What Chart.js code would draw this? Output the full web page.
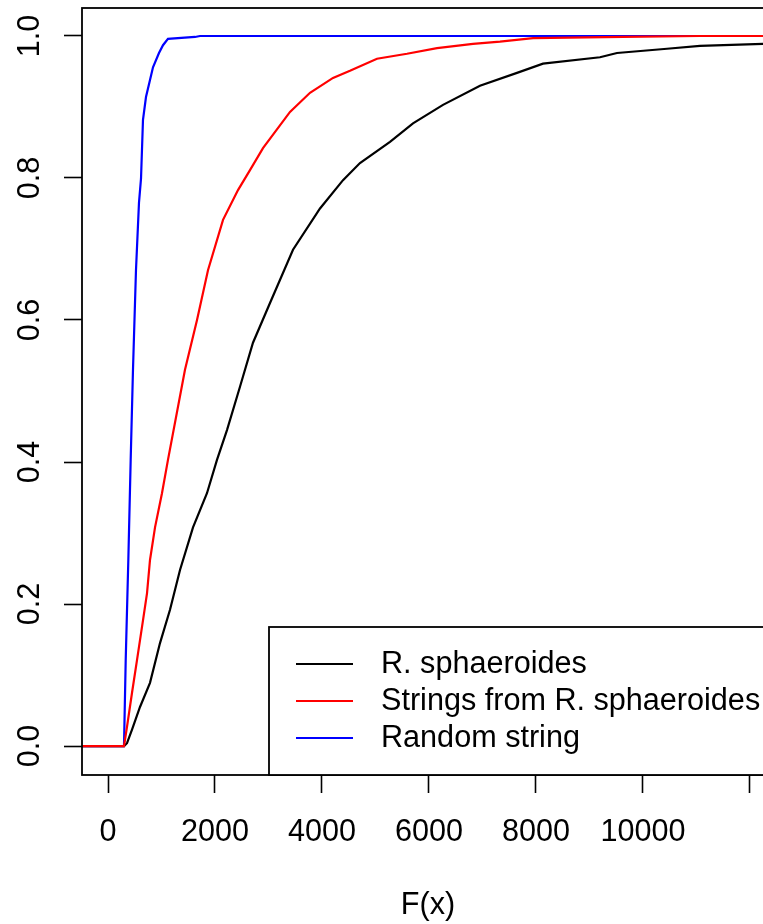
<!DOCTYPE html>
<html>
<head>
<meta charset="utf-8">
<script src="https://cdn.jsdelivr.net/npm/chart.js@4/dist/chart.umd.min.js"></script>
<style>
html,body{margin:0;padding:0;background:#fff;overflow:hidden;}
#wrap{width:784px;height:924px;}
</style>
</head>
<body>
<div id="wrap"><canvas id="c" width="784" height="924"></canvas></div>
<script>
const seriesLabels = ["R. sphaeroides", "Strings from R. sphaeroides", "Random string"];
const seriesColors = ["#000000", "#FF0000", "#0000FF"];

const blackX = [-1000, 299, 355, 449, 598, 785, 972, 1159, 1346, 1589, 1850, 2037, 2224, 2467, 2710, 3028, 3458, 3963, 4393, 4710, 5271, 5701, 6262, 6953, 7645, 8131, 9196, 9514, 10449, 11065, 12243, 13000];
const blackY = [0, 0, 0.004, 0.023, 0.055, 0.089, 0.145, 0.192, 0.248, 0.308, 0.356, 0.403, 0.445, 0.506, 0.568, 0.624, 0.699, 0.757, 0.797, 0.821, 0.851, 0.877, 0.903, 0.930, 0.948, 0.961, 0.970, 0.976, 0.982, 0.986, 0.989, 0.991];

const redX = [-1000, 299, 355, 449, 542, 654, 729, 785, 879, 1009, 1121, 1439, 1664, 1869, 2150, 2430, 2654, 2897, 3402, 3776, 4206, 4523, 5028, 5589, 6150, 6822, 7327, 7944, 9626, 11065, 13000];
const redY = [0, 0, 0.027, 0.075, 0.121, 0.177, 0.215, 0.262, 0.308, 0.356, 0.403, 0.530, 0.600, 0.670, 0.741, 0.783, 0.811, 0.842, 0.893, 0.920, 0.941, 0.951, 0.968, 0.975, 0.983, 0.989, 0.992, 0.997, 0.9986, 1.0, 1.0];

const blueX = [-1000, 299, 331, 380, 424, 467, 523, 579, 617, 654, 710, 785, 841, 953, 1028, 1121, 1626, 1720, 13000];
const blueY = [0, 0, 0.121, 0.262, 0.403, 0.530, 0.670, 0.765, 0.799, 0.882, 0.914, 0.938, 0.956, 0.976, 0.987, 0.996, 0.9986, 1.0, 1.0];

const xTicks = [0, 2000, 4000, 6000, 8000, 10000, 12000];
const xTickLabels = ["0", "2000", "4000", "6000", "8000", "10000", ""];
const yTicks = [0, 0.2, 0.4, 0.6, 0.8, 1.0];
const yTickLabels = ["0.0", "0.2", "0.4", "0.6", "0.8", "1.0"];
const xTitle = "F(x)";

const FONT = "'Liberation Sans', Arial, Helvetica, sans-serif";
const FSIZE = 30.6;

function pts(xs, ys){ return xs.map((x,i)=>({x:x, y:ys[i]})); }

const boxPlugin = {
  id: 'boxPlugin',
  afterDraw(chart){
    const ctx = chart.ctx, a = chart.chartArea;
    ctx.save();
    ctx.strokeStyle = '#000';
    ctx.lineWidth = 1.8;
    ctx.strokeRect(a.left, a.top, a.right - a.left, a.bottom - a.top);
    // y tick labels (rotated, as in R)
    const ys = chart.scales.y;
    ctx.fillStyle = '#000';
    ctx.font = FSIZE + "px " + FONT;
    ctx.textAlign = 'center';
    ctx.textBaseline = 'alphabetic';
    yTicks.forEach((v,i)=>{
      ctx.save();
      ctx.translate(38.5, ys.getPixelForValue(v));
      ctx.rotate(-Math.PI/2);
      ctx.fillText(yTickLabels[i], 0, 0);
      ctx.restore();
    });
    // legend
    const L = a.right - 505, T = a.bottom - 148;
    ctx.fillStyle = '#fff';
    ctx.fillRect(L, T, a.right - L, a.bottom - T);
    ctx.strokeStyle = '#000';
    ctx.lineWidth = 1.8;
    ctx.strokeRect(L, T, a.right - L, a.bottom - T);
    ctx.textAlign = 'left';
    ctx.textBaseline = 'middle';
    chart.data.datasets.forEach((ds, i)=>{
      const yy = T + 37 * (i + 1);
      ctx.strokeStyle = ds.borderColor;
      ctx.lineWidth = 2;
      ctx.beginPath();
      ctx.moveTo(L + 27, yy);
      ctx.lineTo(L + 84, yy);
      ctx.stroke();
      ctx.fillStyle = '#000';
      ctx.fillText(ds.label, L + 112, yy + 1);
    });
    ctx.restore();
  }
};

new Chart(document.getElementById('c'), {
  type: 'line',
  data: {
    datasets: [
      {label: seriesLabels[0], data: pts(blackX, blackY), borderColor: seriesColors[0], borderWidth: 2.2, pointRadius: 0, tension: 0, order: 1},
      {label: seriesLabels[1], data: pts(redX, redY), borderColor: seriesColors[1], borderWidth: 2.2, pointRadius: 0, tension: 0, order: 0},
      {label: seriesLabels[2], data: pts(blueX, blueY), borderColor: seriesColors[2], borderWidth: 2.2, pointRadius: 0, tension: 0, order: 2}
    ]
  },
  options: {
    responsive: false,
    animation: false,
    devicePixelRatio: 1,
    layout: {padding: {left: 0, top: 8, right: 10, bottom: 0}},
    plugins: {legend: {display: false}, tooltip: {enabled: false}},
    scales: {
      x: {
        type: 'linear',
        min: -486, max: 12449,
        afterBuildTicks: s => { s.ticks = xTicks.map(v => ({value: v})); },
        afterFit: s => { s.height = 149; },
        border: {display: false},
        grid: {display: true, drawOnChartArea: false, drawTicks: true, tickLength: 18, tickColor: '#000', tickWidth: 1.6},
        ticks: {
          color: '#000', padding: 21, maxRotation: 0, autoSkip: false,
          font: {family: FONT, size: FSIZE},
          callback: (v) => { const i = xTicks.indexOf(v); return i >= 0 ? xTickLabels[i] : ''; }
        },
        title: {display: true, text: xTitle, color: '#000', font: {family: FONT, size: FSIZE, lineHeight: 1.2}, padding: {top: 0, bottom: 0}}
      },
      y: {
        type: 'linear',
        min: -0.0408, max: 1.0394,
        afterBuildTicks: s => { s.ticks = yTicks.map(v => ({value: v})); },
        afterFit: s => { s.width = 82; },
        border: {display: false},
        grid: {display: true, drawOnChartArea: false, drawTicks: true, tickLength: 18, tickColor: '#000', tickWidth: 1.6},
        ticks: {display: false}
      }
    }
  },
  plugins: [boxPlugin]
});
</script>
</body>
</html>
